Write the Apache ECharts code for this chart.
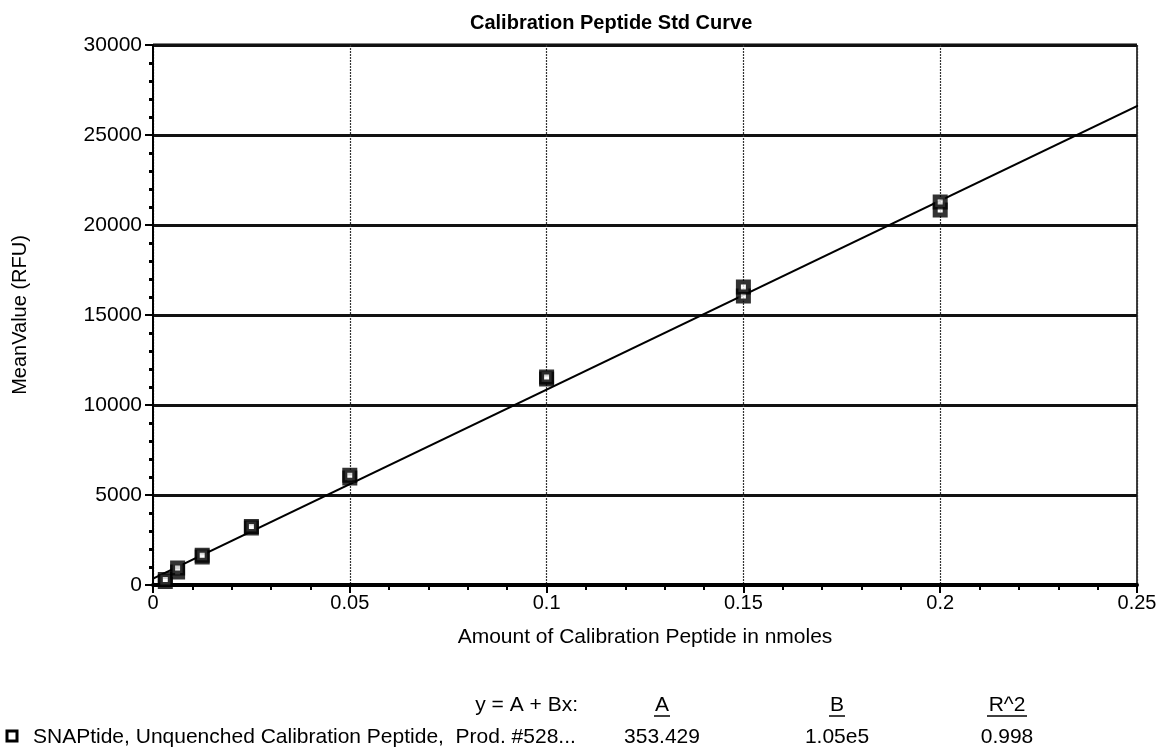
<!DOCTYPE html>
<html>
<head>
<meta charset="utf-8">
<script src="https://cdn.jsdelivr.net/npm/echarts@6/dist/echarts.min.js"></script>
<style>
  html, body { margin: 0; padding: 0; background: #fff; }
  #chart { width: 1160px; height: 754px; }
</style>
</head>
<body>
<div id="chart"></div>
<script>
// measured amounts (nmoles) and replicate readings (RFU)
const amounts = [0.003125, 0.00625, 0.0125, 0.025, 0.05, 0.1, 0.15, 0.2];
const rep1 = [200, 720, 1560, 3170, 5950, 11450, 16060, 20830];
const rep2 = [300, 940, 1650, 3250, 6100, 11560, 16560, 21280];

// linear fit y = A + Bx
const fitA = 353.429;
const fitB = 1.05e5;
const fitRange = [-fitA / fitB, 0.256];

const seriesLabel = 'SNAPtide, Unquenched Calibration Peptide,  Prod. #528...';
const tableHead = ['A', 'B', 'R^2'];
const tableVals = ['353.429', '1.05e5', '0.998'];

const font = '"Liberation Sans", Arial, sans-serif';

const points = [];
amounts.forEach((x, i) => {
    points.push([x, rep1[i]]);
    points.push([x, rep2[i]]);
});
const fitLine = fitRange.map(x => [x, fitA + fitB * x]);

const chart = echarts.init(document.getElementById('chart'));

const colX = [662, 837, 1007];
const graphics = [
    { type: 'text', x: 578, y: 705, style: { text: 'y = A + Bx:', font: '21px ' + font, fill: '#000', textAlign: 'right', textVerticalAlign: 'middle' } },
    { type: 'rect', shape: { x: 7, y: 731, width: 10, height: 10 }, style: { fill: '#fff', stroke: '#000', lineWidth: 3 } },
    { type: 'text', x: 33, y: 737, style: { text: seriesLabel, font: '21px ' + font, fill: '#000', textVerticalAlign: 'middle' } }
];
tableHead.forEach((h, i) => {
    graphics.push({ type: 'text', x: colX[i], y: 705, style: { text: h, font: '21px ' + font, fill: '#000', textAlign: 'center', textVerticalAlign: 'middle' } });
    const w = h.length * 12 + 4;
    graphics.push({ type: 'line', shape: { x1: colX[i] - w / 2, y1: 716, x2: colX[i] + w / 2, y2: 716 }, style: { stroke: '#000', lineWidth: 1.5 } });
    graphics.push({ type: 'text', x: colX[i], y: 737, style: { text: tableVals[i], font: '21px ' + font, fill: '#000', textAlign: 'center', textVerticalAlign: 'middle' } });
});
// plot frame top & right
graphics.push({ type: 'line', shape: { x1: 153, y1: 45, x2: 1137, y2: 45 }, style: { stroke: '#000', lineWidth: 3 } });
graphics.push({ type: 'line', shape: { x1: 1137, y1: 45, x2: 1137, y2: 585 }, style: { stroke: '#000', lineWidth: 1.5 } });

const option = {
    animation: false,
    backgroundColor: '#fff',
    textStyle: { fontFamily: font },
    title: {
        text: 'Calibration Peptide Std Curve',
        left: 465,
        top: 8,
        textStyle: { fontSize: 20, fontWeight: 'bold', color: '#000', fontFamily: font }
    },
    grid: { left: 153, right: 23, top: 45, bottom: 169, outerBoundsMode: 'none' },
    xAxis: {
        type: 'value',
        min: 0,
        max: 0.25,
        interval: 0.05,
        name: 'Amount of Calibration Peptide in nmoles',
        nameLocation: 'middle',
        nameGap: 42,
        nameTextStyle: { fontSize: 21, color: '#000' },
        axisLine: { lineStyle: { color: '#000', width: 4 } },
        axisTick: { length: 8, lineStyle: { color: '#000', width: 2 } },
        minorTick: { show: true, splitNumber: 5, length: 5, lineStyle: { color: '#000', width: 2 } },
        axisLabel: { fontSize: 20, color: '#000', margin: 8 },
        splitLine: { show: true, lineStyle: { color: '#333', width: 1.2, type: [2, 1] } }
    },
    yAxis: {
        type: 'value',
        min: 0,
        max: 30000,
        interval: 5000,
        name: 'MeanValue (RFU)',
        nameLocation: 'middle',
        nameGap: 123,
        nameTextStyle: { fontSize: 20, color: '#000' },
        axisLine: { onZero: false, lineStyle: { color: '#000', width: 2 } },
        axisTick: { length: 8, lineStyle: { color: '#000', width: 2 } },
        minorTick: { show: true, splitNumber: 5, length: 4, lineStyle: { color: '#000', width: 3 } },
        axisLabel: { fontSize: 21, color: '#000', margin: 11, formatter: v => String(v) },
        splitLine: { show: true, lineStyle: { color: '#111', width: 3 } }
    },
    graphic: graphics,
    series: [
        {
            type: 'line',
            data: fitLine,
            clip: false,
            symbol: 'none',
            lineStyle: { color: '#000', width: 2 },
            z: 3
        },
        {
            type: 'scatter',
            data: points,
            symbol: 'rect',
            symbolSize: 10,
            itemStyle: { color: '#fff', borderColor: '#000', borderWidth: 5 },
            z: 4
        }
    ]
};
chart.setOption(option);
</script>
</body>
</html>
